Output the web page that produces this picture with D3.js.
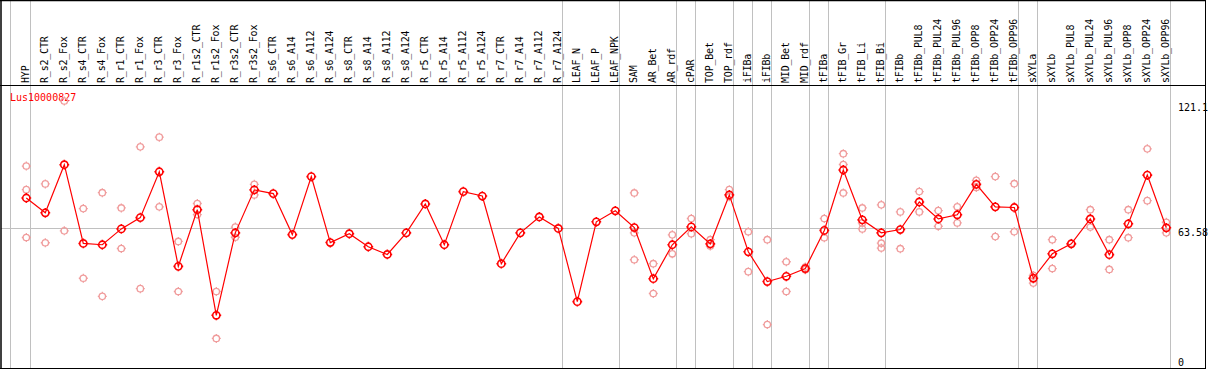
<!DOCTYPE html>
<html>
<head>
<meta charset="utf-8">
<script src="https://cdn.jsdelivr.net/npm/d3@7"></script>
<style>
  html, body { margin: 0; padding: 0; background: #fff; }
  svg { display: block; }
  text { font-family: "DejaVu Sans Mono", "Liberation Mono", monospace; }
</style>
</head>
<body>
<div id="chart"></div>
<script>
const categories = ["HYP","R_s2_CTR","R_s2_Fox","R_s4_CTR","R_s4_Fox","R_r1_CTR","R_r1_Fox","R_r3_CTR","R_r3_Fox",
  "R_r1s2_CTR","R_r1s2_Fox","R_r3s2_CTR","R_r3s2_Fox","R_s6_CTR","R_s6_A14","R_s6_A112","R_s6_A124",
  "R_s8_CTR","R_s8_A14","R_s8_A112","R_s8_A124","R_r5_CTR","R_r5_A14","R_r5_A112","R_r5_A124",
  "R_r7_CTR","R_r7_A14","R_r7_A112","R_r7_A124","LEAF_N","LEAF_P","LEAF_NPK","SAM","AR_Bet","AR_rdf",
  "cPAR","TOP_Bet","TOP_rdf","iFIBa","iFIBb","MID_Bet","MID_rdf","tFIBa","tFIB_Gr","tFIB_Li","tFIB_Bi",
  "tFIBb","tFIBb_PUL8","tFIBb_PUL24","tFIBb_PUL96","tFIBb_OPP8","tFIBb_OPP24","tFIBb_OPP96",
  "sXYLa","sXYLb","sXYLb_PUL8","sXYLb_PUL24","sXYLb_PUL96","sXYLb_OPP8","sXYLb_OPP24","sXYLb_OPP96"];

const meanValues = [77.1,70.4,92.2,56.5,55.9,63.1,68.2,89.0,46.1,
  71.8,23.9,61.3,80.8,79.1,60.5,86.8,56.9,
  60.9,55.0,51.5,61.3,74.4,55.9,80.0,78.0,
  47.3,61.3,68.5,63.3,30.1,66.3,71.3,63.7,40.5,55.9,
  64.0,56.3,78.5,52.7,39.2,41.6,45.1,62.4,89.8,67.2,61.3,
  62.8,75.3,67.6,69.5,83.3,73.1,72.8,
  40.7,51.8,56.3,67.6,51.4,65.4,87.5,63.6];

const replicateValues = [
  [91.6,80.9,59.2],[83.5,56.8],[121.1,62.2],[72.3,40.7],[79.5,32.5],[72.6,54.2],[100.3,36.0],[104.7,73.1],[57.4,34.7],
  [74.6,69.6],[34.7,13.4],[63.9,59.3],[83.3,78.5],[],[],[],[],
  [],[],[],[],[],[],[],[],
  [],[],[],[],[],[],[],[79.4,61.3,49.1],[47.3,33.8],[60.4,51.8],
  [67.8,60.9],[58.2,55.3],[80.9,77.7],[61.8,43.7],[58.2,19.7],[48.2,34.7],[45.8,44.6],[67.8,59.1],[97.2,92.3,79.4],[72.6,65.8,63.1],[74.0,56.6,54.4],
  [70.8,54.1],[80.0,70.8],[71.4,64.3],[73.1,65.8],[85.1,81.9],[86.8,59.6],[83.6,61.8],
  [42.0,38.5],[58.2,45.1],[56.6],[71.8,63.9],[58.2,44.7],[71.8,59.1],[99.4,75.9],[66.1,61.3]];

const groupEnds = ["HYP","R_r7_A124","LEAF_NPK","AR_rdf","cPAR","TOP_rdf","iFIBa","iFIBb","MID_rdf",
  "tFIBa","tFIB_Bi","tFIBb_OPP96","sXYLa","sXYLb_OPP96"];

const yTickValues = [0, 63.58, 121.1];
const yTickLabels = ["0", "63.58", "121.1"];
const seriesLabel = "Lus10000827";

const W = 1209, H = 370;
const svg = d3.select("#chart").append("svg").attr("width", W).attr("height", H);
svg.append("rect").attr("width", W).attr("height", H).attr("fill", "#fff");

const x = d3.scaleBand().domain(categories).range([16.8, 16.8 + 19 * categories.length]);
const cx = d => x(d) + x.bandwidth() / 2;
const y = d3.scaleLinear().domain([0, 121.1]).range([368, 101]);

const gray = "#c0c0c0";

// group separator lines
const sepX = [cx(categories[0]) - 19 + 3.5].concat(groupEnds.map(g => cx(g) + 4));
svg.append("g").selectAll("line").data(sepX).join("line")
  .attr("x1", d => Math.floor(d) + 0.5).attr("x2", d => Math.floor(d) + 0.5)
  .attr("y1", 0).attr("y2", 368)
  .attr("stroke", gray).attr("stroke-width", 1);

// mean horizontal line
const yMid = Math.round(y(yTickValues[1])) + 0.5;
svg.append("line").attr("x1", 1).attr("x2", Math.floor(cx(categories[categories.length-1]) + 3) + 0.5)
  .attr("y1", yMid).attr("y2", yMid).attr("stroke", gray);

// frame
svg.append("line").attr("x1", 0).attr("x2", 1206).attr("y1", 0.5).attr("y2", 0.5).attr("stroke", "#000").attr("stroke-width", 1.5);
svg.append("line").attr("x1", 0).attr("x2", 1206).attr("y1", 85.5).attr("y2", 85.5).attr("stroke", "#000");
svg.append("line").attr("x1", 0).attr("x2", 1206).attr("y1", 368.5).attr("y2", 368.5).attr("stroke", "#000");
svg.append("line").attr("x1", 1).attr("x2", 1).attr("y1", 0).attr("y2", 369).attr("stroke", "#000").attr("stroke-width", 1.5);
svg.append("line").attr("x1", 1205.5).attr("x2", 1205.5).attr("y1", 0).attr("y2", 369).attr("stroke", "#000");

// header labels
svg.append("g").selectAll("text").data(categories).join("text")
  .attr("transform", d => `translate(${cx(d) + 3},83) rotate(-90)`)
  .attr("font-size", 10).attr("letter-spacing", -0.2)
  .attr("fill", "#000")
  .text(d => d);

// y labels
const yLabelY = [y(0) - 2, y(yTickValues[1]) + 8.5, y(yTickValues[2]) + 9.5];
svg.append("g").selectAll("text").data(yTickLabels).join("text")
  .attr("x", 1178).attr("y", (d, i) => yLabelY[i])
  .attr("font-size", 10).attr("fill", "#000")
  .text(d => d);

// series label
svg.append("text").attr("x", 10).attr("y", 101).attr("font-size", 10)
  .attr("fill", "red").text(seriesLabel);

function marker(r, t) {
  return `M${-r},0a${r},${r} 0 1,0 ${2*r},0a${r},${r} 0 1,0 ${-2*r},0` +
    `M0,${-r}v${-t}M0,${r}v${t}M${-r},0h${-t}M${r},0h${t}`;
}

// replicate points
const reps = [];
categories.forEach((c, i) => replicateValues[i].forEach(v => reps.push({c, v})));
svg.append("g").selectAll("path").data(reps).join("path")
  .attr("transform", d => `translate(${cx(d.c)},${y(d.v)})`)
  .attr("d", marker(3.2, 1.3))
  .attr("fill", "none").attr("stroke", "#f09c9c").attr("stroke-width", 1.3);

// mean line
const pts = categories.map((c, i) => ({c, v: meanValues[i]}));
svg.append("path").datum(pts)
  .attr("d", d3.line().x(d => cx(d.c)).y(d => y(d.v)))
  .attr("fill", "none").attr("stroke", "red").attr("stroke-width", 1.2);

svg.append("g").selectAll("path").data(pts).join("path")
  .attr("transform", d => `translate(${cx(d.c)},${y(d.v)})`)
  .attr("d", marker(3.6, 1.3))
  .attr("fill", "none").attr("stroke", "red").attr("stroke-width", 1.6);
</script>
</body>
</html>
